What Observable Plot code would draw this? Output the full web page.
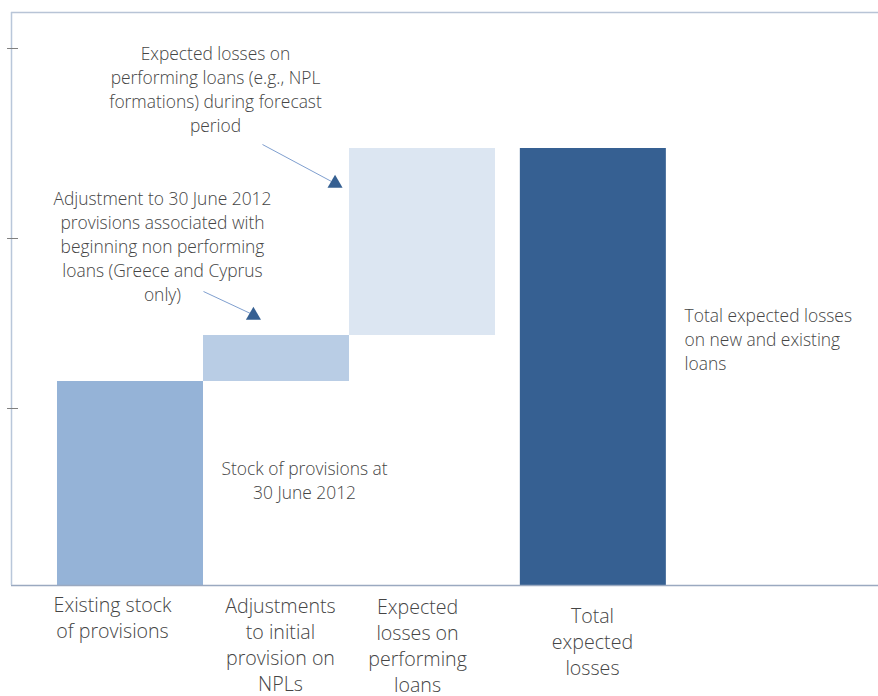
<!DOCTYPE html>
<html>
<head>
<meta charset="utf-8">
<script src="https://cdn.jsdelivr.net/npm/d3@7"></script>
<script src="https://cdn.jsdelivr.net/npm/@observablehq/plot@0.6"></script>
<style>
  html, body { margin: 0; padding: 0; background: #fff; }
  svg { display: block; }
</style>
</head>
<body>
<div id="chart"></div>
<script>
// Categories of the waterfall
const categories = [
  "Existing stock\nof provisions",
  "Adjustments\nto initial\nprovision on\nNPLs",
  "Expected\nlosses on\nperforming\nloans",
  "Total\nexpected\nlosses"
];
// Floating bar bottoms / tops (arbitrary units; schematic chart)
const barStart = [0, 204, 250, 0];
const barEnd = [204, 250, 437, 437];
// Bar slot positions (in bar widths)
const slot = [0, 1, 2, 3.17];
const barColors = ["#95b3d7", "#b9cde5", "#dce6f2", "#366092"];
// Axis ticks (unlabelled)
const yTicks = [177, 347, 537];
// Category label anchors
const labelX = [0.377, 1.527, 2.466, 3.664];
const labelY = [-31, -58, -59, -55];
// Annotation texts (centred)
const annText = [
  "Expected losses on\nperforming loans (e.g., NPL\nformations) during forecast\nperiod",
  "Adjustment to 30 June 2012\nprovisions associated with\nbeginning non performing\nloans (Greece and Cyprus\nonly)",
  "Stock of provisions at\n30 June 2012"
];
const annX = [1.082, 0.719, 1.692];
const annY = [497, 340.5, 106];
// Left-aligned annotation
const sideText = ["Total expected losses\non new and existing\nloans"];
const sideX = [4.295];
const sideY = [247];
// Arrows: from -> to (tip triangle at head)
const arrowX1 = [1.404, 1.0];
const arrowY1 = [441, 294];
const arrowX2 = [1.877, 1.322];
const arrowY2 = [404, 272];
const headX = [1.901, 1.342];
const headY = [402, 270];

const bars = categories.map((c, i) => ({c, x1: slot[i], x2: slot[i] + 1, y1: barStart[i], y2: barEnd[i], color: barColors[i]}));
const labels = categories.map((c, i) => ({c, x: labelX[i], y: labelY[i]}));
const anns = annText.map((t, i) => ({t, x: annX[i], y: annY[i]}));
const sides = sideText.map((t, i) => ({t, x: sideX[i], y: sideY[i]}));
const arrows = arrowX1.map((_, i) => ({x1: arrowX1[i], y1: arrowY1[i], x2: arrowX2[i], y2: arrowY2[i], hx: headX[i], hy: headY[i]}));

const font = "'Open Sans', sans-serif";
const textFill = "#454545";
const chart = Plot.plot({
  width: 878,
  height: 696,
  marginLeft: 11,
  marginRight: 0,
  marginTop: 12,
  marginBottom: 111,
  style: {fontFamily: font, background: "#fff"},
  x: {type: "linear", domain: [-0.315, 5.623], axis: null},
  y: {type: "linear", domain: [0, 573], axis: null},
  marks: [
    Plot.rectY(bars, {x1: "x1", x2: "x2", y1: "y1", y2: "y2", fill: "color"}),
    Plot.ruleY([573], {stroke: "#b8c4d6", strokeWidth: 1.5}),
    Plot.ruleY([0], {stroke: "#9aa9c0", strokeWidth: 1.5}),
    Plot.ruleX([-0.315], {y1: 0, y2: 573, stroke: "#b9c7da", strokeWidth: 1.5}),
    Plot.ruleY(yTicks, {x1: -0.342, x2: -0.267, stroke: "#808080", strokeWidth: 1}),
    Plot.link(arrows, {x1: "x1", y1: "y1", x2: "x2", y2: "y2", stroke: "#7f9fcf", strokeWidth: 1}),
    Plot.dot(arrows, {x: "hx", y: "hy", symbol: "triangle", r: 5.6, fill: "#366092", stroke: "none"}),
    Plot.text(labels, {x: "x", y: "y", text: "c", fontSize: 19.6, fontWeight: 300, lineHeight: 26/19.6, fill: textFill, textAnchor: "middle", lineAnchor: "middle"}),
    Plot.text(anns, {x: "x", y: "y", text: "t", fontSize: 17.4, fontWeight: 300, lineHeight: 24/17.4, fill: textFill, textAnchor: "middle", lineAnchor: "middle"}),
    Plot.text(sides, {x: "x", y: "y", text: "t", fontSize: 17.4, fontWeight: 300, lineHeight: 24/17.4, fill: textFill, textAnchor: "start", lineAnchor: "middle"})
  ]
});
document.getElementById("chart").appendChild(chart);
</script>
</body>
</html>
